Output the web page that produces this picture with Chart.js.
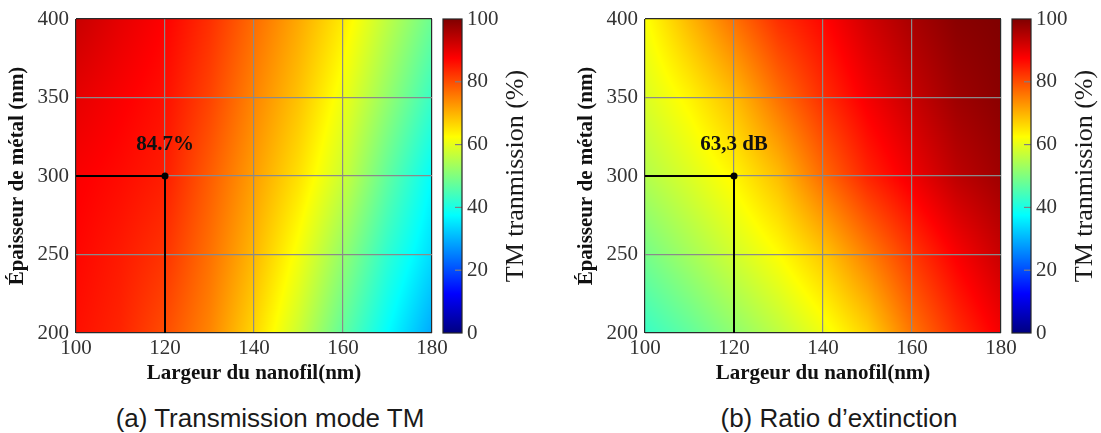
<!DOCTYPE html>
<html>
<head>
<meta charset="utf-8">
<script src="https://cdn.jsdelivr.net/npm/chart.js@4.4.0/dist/chart.umd.min.js"></script>
<style>
  html, body { margin: 0; background: #fff; width: 1101px; height: 433px; overflow: hidden; }
  body { position: relative; }
  canvas { position: absolute; top: 0; }
  .cap {
    position: absolute; top: 403px; width: 540px; line-height: 30px;
    text-align: center; font: 26px 'Liberation Sans', Arial, sans-serif; color: #1a1a1a;
  }
</style>
</head>
<body>
<canvas id="tm" width="532" height="395" style="left:0"></canvas>
<canvas id="er" width="532" height="395" style="left:569px"></canvas>
<div class="cap" style="left:0">(a) Transmission mode TM</div>
<div class="cap" style="left:569px">(b) Ratio d’extinction</div>

<script>
// grid nodes (nm)
const widths = [100, 110, 120, 130, 140, 150, 160, 170, 180];
const thicknesses = [200, 250, 300, 350, 400];

// one row per thickness (200 -> 400), one column per width
const tmTransmission = [
  [86, 84, 80, 74.5, 66.5, 57.5, 47, 37.5, 29],
  [87, 85, 82.5, 76.5, 69.5, 61.5, 52, 42, 34],
  [88, 86.5, 84.7, 78.5, 72, 65.5, 57.5, 47, 37.5],
  [90, 88, 86, 81, 74.5, 68.5, 61, 52, 43],
  [93, 90, 87.5, 83, 77, 71, 64.5, 56, 48]
];
const extinctionRatio = [
  [43, 47, 51.5, 56, 61, 67, 76, 83, 88.5],
  [49, 53.5, 58, 62.5, 68, 75, 82, 88, 93],
  [55, 59, 63.3, 69, 77, 84, 89, 94, 97],
  [59, 63.5, 69, 76.5, 83, 88.5, 93, 97, 99],
  [62, 69.5, 76.5, 83, 87, 92, 96, 99, 100]
];

const xTicks = [100, 120, 140, 160, 180];
const yTicks = [200, 250, 300, 350, 400];
const cbTicks = [0, 20, 40, 60, 80, 100];

// marked design point and its labels
const markPath = [{ x: 100, y: 300 }, { x: 120, y: 300 }, { x: 120, y: 200 }];
const markLabelPos = { x: 120, y: 320 };
const tmLabel = "84.7%";
const erLabel = "63,3 dB";

const SERIF = "'Liberation Serif', 'DejaVu Serif', serif";

const JET = [
  [0, 0, 0, 128], [0.125, 0, 0, 255], [0.375, 0, 255, 255],
  [0.625, 255, 255, 0], [0.875, 255, 0, 0], [1, 128, 0, 0]
];

function jet(v) {
  const t = Math.min(1, Math.max(0, v / 100));
  for (let i = 1; i < JET.length; i++) {
    if (t <= JET[i][0]) {
      const a = JET[i - 1], b = JET[i];
      const f = (t - a[0]) / (b[0] - a[0]);
      return [a[1] + (b[1] - a[1]) * f, a[2] + (b[2] - a[2]) * f, a[3] + (b[3] - a[3]) * f];
    }
  }
  return JET[JET.length - 1].slice(1);
}

function seg(arr, v) {
  let i = 0;
  while (i < arr.length - 2 && v > arr[i + 1]) i++;
  const f = Math.min(1, Math.max(0, (v - arr[i]) / (arr[i + 1] - arr[i])));
  return [i, f];
}

function sample(grid, x, y) {
  const [i, fx] = seg(widths, x);
  const [j, fy] = seg(thicknesses, y);
  const a = grid[j][i] * (1 - fx) + grid[j][i + 1] * fx;
  const b = grid[j + 1][i] * (1 - fx) + grid[j + 1][i + 1] * fx;
  return a * (1 - fy) + b * fy;
}

const heatmap = {
  id: "heatmap",
  beforeDraw(chart, args, opts) {
    const { ctx, chartArea: a, scales } = chart;
    const w = Math.round(a.right - a.left), h = Math.round(a.bottom - a.top);
    const off = document.createElement("canvas");
    off.width = w; off.height = h;
    const octx = off.getContext("2d");
    const img = octx.createImageData(w, h);
    for (let py = 0; py < h; py++) {
      const yv = scales.y.getValueForPixel(a.top + py + 0.5);
      for (let px = 0; px < w; px++) {
        const xv = scales.x.getValueForPixel(a.left + px + 0.5);
        const c = jet(sample(opts.values, xv, yv));
        const k = (py * w + px) * 4;
        img.data[k] = c[0]; img.data[k + 1] = c[1]; img.data[k + 2] = c[2]; img.data[k + 3] = 255;
      }
    }
    octx.putImageData(img, 0, 0);
    ctx.drawImage(off, a.left, a.top);

    // colorbar
    const cb = scales.cb;
    const x0 = a.right + 11, bw = 19;
    const yTop = cb.getPixelForValue(100), yBot = cb.getPixelForValue(0);
    const g = ctx.createLinearGradient(0, yBot, 0, yTop);
    JET.forEach(s => g.addColorStop(s[0], `rgb(${s[1]},${s[2]},${s[3]})`));
    ctx.save();
    ctx.fillStyle = g;
    ctx.fillRect(x0, yTop, bw, yBot - yTop);
    ctx.strokeStyle = "#808080";
    ctx.lineWidth = 1.2;
    cbTicks.slice(1, -1).forEach(v => {
      const y = cb.getPixelForValue(v);
      ctx.beginPath(); ctx.moveTo(x0 + bw - 7, y); ctx.lineTo(x0 + bw, y); ctx.stroke();
    });
    ctx.strokeStyle = "#262626";
    ctx.lineWidth = 1.2;
    ctx.strokeRect(x0, yTop, bw, yBot - yTop);
    ctx.restore();
  },
  afterDatasetsDraw(chart, args, opts) {
    const { ctx, chartArea: a, scales } = chart;
    ctx.save();
    ctx.fillStyle = "#111";
    ctx.font = `bold 21px ${SERIF}`;
    ctx.textAlign = "center";
    ctx.textBaseline = "middle";
    ctx.fillText(opts.label, scales.x.getPixelForValue(markLabelPos.x), scales.y.getPixelForValue(markLabelPos.y));
    // colorbar title, reading bottom to top
    ctx.translate(a.right + 84, (a.top + a.bottom) / 2);
    ctx.rotate(-Math.PI / 2);
    ctx.font = `26px ${SERIF}`;
    ctx.fillStyle = "#1a1a1a";
    ctx.fillText("TM tranmission (%)", 0, 0);
    ctx.restore();
  }
};

function edgeColor(lo, hi) {
  return c => (c.tick && (c.tick.value === lo || c.tick.value === hi)) ? "#2a2a2a" : "#8a8a8a";
}

function makeChart(id, values, label) {
  const tickFont = { family: SERIF, size: 21 };
  return new Chart(document.getElementById(id), {
    type: "scatter",
    data: {
      datasets: [{
        data: markPath,
        showLine: true,
        borderColor: "#000",
        borderWidth: 2,
        backgroundColor: "#000",
        pointRadius: [0, 3.5, 0],
        pointBorderWidth: 0
      }]
    },
    options: {
      responsive: false,
      animation: false,
      devicePixelRatio: 1,
      layout: { padding: { top: 19, left: 0, right: 0, bottom: 0 } },
      plugins: {
        legend: { display: false },
        tooltip: { enabled: false },
        heatmap: { values, label }
      },
      scales: {
        x: {
          type: "linear", min: 100, max: 180,
          afterBuildTicks: s => { s.ticks = xTicks.map(v => ({ value: v })); },
          afterFit: s => { s.height = 62; },
          grid: { color: edgeColor(100, 180), lineWidth: 1.2, drawTicks: true, tickLength: 3, tickColor: "transparent" },
          border: { display: false },
          ticks: { font: tickFont, color: "#333", padding: 0, maxRotation: 0 },
          title: {
            display: true, text: "Largeur du nanofil(nm)", color: "#111",
            font: { family: SERIF, size: 21, weight: "bold" },
            padding: { top: 0, bottom: 9 }
          }
        },
        y: {
          type: "linear", min: 200, max: 400,
          afterBuildTicks: s => { s.ticks = yTicks.map(v => ({ value: v })); },
          afterFit: s => { s.width = 76; },
          grid: { color: edgeColor(200, 400), lineWidth: 1.2, drawTicks: true, tickLength: 7, tickColor: "transparent" },
          border: { display: false },
          ticks: { font: tickFont, color: "#333", padding: 0 },
          title: {
            display: true, text: "Épaisseur de métal (nm)", color: "#111",
            font: { family: SERIF, size: 21, weight: "bold" },
            padding: { top: 5, bottom: 0 }
          }
        },
        cb: {
          type: "linear", position: "right", min: 0, max: 100,
          afterBuildTicks: s => { s.ticks = cbTicks.map(v => ({ value: v })); },
          afterFit: s => { s.width = 100; },
          grid: { display: true, drawOnChartArea: false, drawTicks: true, tickLength: 35, color: "transparent", tickColor: "transparent" },
          border: { display: false },
          ticks: { font: tickFont, color: "#333", padding: 0 }
        }
      }
    },
    plugins: [heatmap]
  });
}

makeChart("tm", tmTransmission, tmLabel);
makeChart("er", extinctionRatio, erLabel);
</script>
</body>
</html>
